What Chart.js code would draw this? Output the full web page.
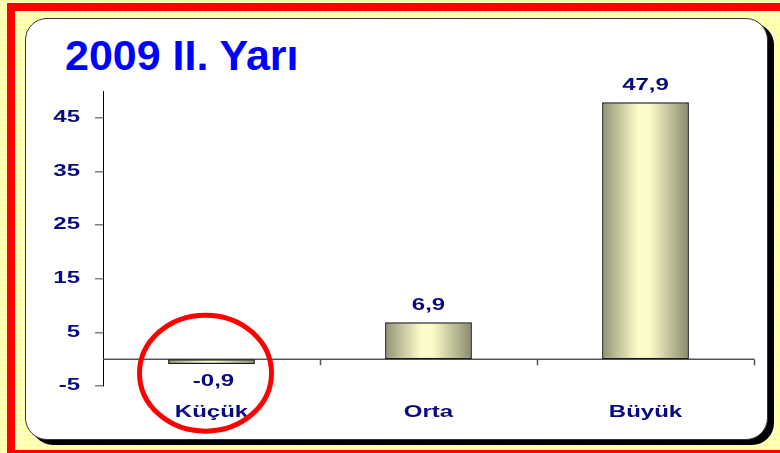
<!DOCTYPE html>
<html>
<head>
<meta charset="utf-8">
<script src="https://cdn.jsdelivr.net/npm/chart.js@4.4.0/dist/chart.umd.min.js"></script>
<style>
  html, body { margin:0; padding:0; }
  body {
    width:780px; height:453px; overflow:hidden; position:relative;
    background-color:#ffffa4;
    background-image:radial-gradient(#ffffff 0.9px, transparent 1.3px);
    background-size:5px 5px;
  }
  #frame { position:absolute; left:7px; top:3px; width:800px; height:455px; box-sizing:border-box; border:8px solid #ff0000; }
  #panel {
    position:absolute; left:25px; top:18px; width:743px; height:422px; box-sizing:border-box;
    background:#fff; border:1px solid #333; border-radius:22px; box-shadow:6px 5px 0 #000;
  }
  #title {
    position:absolute; left:65px; top:34px; line-height:43px;
    font-family:'Liberation Sans', Arial, sans-serif; font-weight:bold; font-size:43px; color:#0000ff;
  }
  #c { position:absolute; left:0; top:0; }
</style>
</head>
<body>
<div id="frame"></div>
<div id="panel"></div>
<div id="title">2009 II. Yarı</div>
<canvas id="c" width="780" height="453"></canvas>
<script>
// ---- data ----
var categories = ['Küçük', 'Orta', 'Büyük'];
var values = [-0.9, 6.9, 47.9];
var yTicks = [-5, 5, 15, 25, 35, 45];
var yMin = -5, yMax = 50;

var NAVY = '#0a0a80';
var LABEL_FONT = 'bold 16px "Liberation Sans", Arial, sans-serif';
var STRETCH = 1.5;

function fmt(v) { return v.toFixed(1).replace('.', ','); }

function stretchedText(ctx, txt, x, y, align) {
  ctx.save();
  ctx.translate(x, y);
  ctx.scale(STRETCH, 1);
  ctx.textAlign = align;
  ctx.fillText(txt, 0, 0);
  ctx.restore();
}

function barFill(c) {
  var chart = c.chart, area = chart.chartArea;
  if (!area || !chart.scales.x) return '#e8e8b8';
  var cx = chart.scales.x.getPixelForValue(c.dataIndex);
  var w = (area.right - area.left) / categories.length * 0.4;
  var g = chart.ctx.createLinearGradient(cx - w / 2, 0, cx + w / 2, 0);
  g.addColorStop(0, '#929274');
  g.addColorStop(0.42, '#fefecc');
  g.addColorStop(0.55, '#fbfbc8');
  g.addColorStop(1, '#8a8a6c');
  return g;
}

var decor = {
  id: 'decor',
  beforeDatasetsDraw: function(chart) {
    var ctx = chart.ctx, a = chart.chartArea, y = chart.scales.y;
    var y0 = y.getPixelForValue(0);
    var step = (a.right - a.left) / categories.length;
    ctx.save();
    ctx.strokeStyle = '#555';
    ctx.lineWidth = 1.5;
    ctx.beginPath();
    ctx.moveTo(a.left, y0);
    ctx.lineTo(a.right, y0);
    for (var i = 1; i <= categories.length; i++) {
      var bx = Math.round(a.left + i * step) + 0.5;
      ctx.moveTo(bx, y0);
      ctx.lineTo(bx, y0 + 6);
    }
    ctx.stroke();
    ctx.restore();
  },
  afterDatasetsDraw: function(chart) {
    var ctx = chart.ctx, a = chart.chartArea, x = chart.scales.x, y = chart.scales.y;
    var y0 = y.getPixelForValue(0);
    ctx.save();
    ctx.fillStyle = NAVY;
    ctx.font = LABEL_FONT;
    ctx.textBaseline = 'alphabetic';
    // value labels
    values.forEach(function(v, i) {
      var px = x.getPixelForValue(i);
      var py = y.getPixelForValue(v);
      if (v >= 0) stretchedText(ctx, fmt(v), px, py - 12, 'center');
      else stretchedText(ctx, fmt(v), px + 2, py + 22, 'center');
    });
    // category labels
    categories.forEach(function(c, i) {
      stretchedText(ctx, c, x.getPixelForValue(i), a.bottom + 31, 'center');
    });
    // y tick labels
    ctx.textBaseline = 'middle';
    y.ticks.forEach(function(t) {
      stretchedText(ctx, String(t.value), a.left - 23, y.getPixelForValue(t.value), 'right');
    });
    // red highlight ellipse around first category
    ctx.strokeStyle = '#ff0000';
    ctx.lineWidth = 5;
    ctx.beginPath();
    ctx.ellipse(x.getPixelForValue(0) - 6, y0 + 14, 66, 58, 0, 0, Math.PI * 2);
    ctx.stroke();
    ctx.restore();
  }
};

new Chart(document.getElementById('c'), {
  type: 'bar',
  data: {
    labels: categories,
    datasets: [{
      data: values,
      backgroundColor: barFill,
      borderColor: '#1a1a1a',
      borderWidth: 1.5,
      borderSkipped: false,
      barPercentage: 0.4,
      categoryPercentage: 1
    }]
  },
  options: {
    responsive: false,
    animation: false,
    layout: { padding: { left: 83, right: 26, top: 91, bottom: 67 } },
    plugins: { legend: { display: false }, tooltip: { enabled: false } },
    scales: {
      x: { display: false, offset: true },
      y: {
        min: yMin, max: yMax,
        afterBuildTicks: function(s) { s.ticks = yTicks.map(function(v) { return { value: v }; }); },
        afterFit: function(s) { s.width = 20; },
        ticks: { display: false },
        grid: { drawOnChartArea: false, drawTicks: true, tickLength: 8, color: '#808080', lineWidth: 1.5 },
        border: { display: true, color: '#000', width: 1 }
      }
    }
  },
  plugins: [decor]
});
</script>
</body>
</html>
